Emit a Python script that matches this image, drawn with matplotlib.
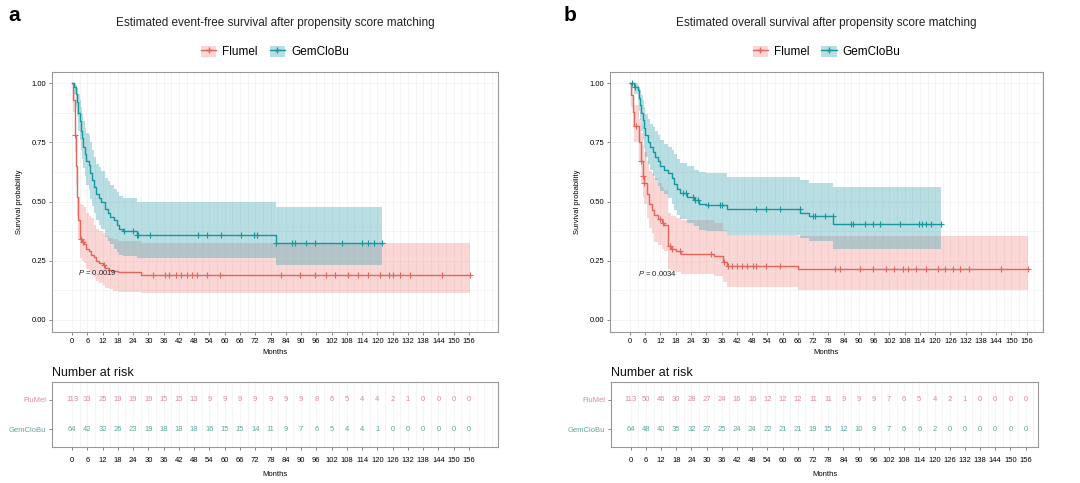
import numpy as np
import matplotlib
matplotlib.use('Agg')
import matplotlib.pyplot as plt
from matplotlib.patches import Patch
from matplotlib.lines import Line2D

plt.rcParams['font.family'] = ['Liberation Sans', 'DejaVu Sans']
plt.rcParams['mathtext.fontset'] = 'custom'
plt.rcParams['mathtext.it'] = 'Liberation Sans:italic'
plt.rcParams['mathtext.rm'] = 'Liberation Sans'

# ---- panel a: event-free survival ----
efs_flu_t = [0, 0.5, 1, 1.5, 2, 2.5, 3, 4, 4.8, 5.5, 6.5, 7.5, 8.5, 9.5, 10.5, 12, 13, 14.5, 16, 18, 27]
efs_flu_s = [1.0, 0.93, 0.78, 0.65, 0.52, 0.42, 0.34, 0.33, 0.32, 0.30, 0.29, 0.275, 0.265, 0.25, 0.24, 0.23, 0.22, 0.21, 0.205, 0.20, 0.19]
efs_flu_hi = [1.0, 0.97, 0.86, 0.74, 0.62, 0.52, 0.49, 0.485, 0.475, 0.45, 0.44, 0.43, 0.40, 0.385, 0.375, 0.365, 0.355, 0.345, 0.34, 0.335, 0.325]
efs_flu_lo = [1.0, 0.88, 0.71, 0.57, 0.44, 0.34, 0.26, 0.25, 0.24, 0.215, 0.20, 0.19, 0.18, 0.165, 0.155, 0.145, 0.135, 0.128, 0.122, 0.118, 0.113]
efs_flu_end = 156.4
efs_flu_cens = [1, 3.5, 4.2, 12.5, 32, 36.5, 38, 41, 43, 45, 47, 49, 53, 58, 82, 89.5, 95.5, 100, 103.5,
                108.5, 112.5, 116.5, 121, 124.5, 126, 129, 133, 145.5, 156.4]

efs_gem_t = [0, 0.8, 1.5, 2, 2.5, 3, 3.5, 4, 4.5, 5, 5.5, 6.5, 7, 8, 8.5, 9.5, 10.5, 11.5, 13, 14, 15, 16.5, 17.5, 18.5, 20, 25.5, 80]
efs_gem_s = [1.0, 0.984, 0.953, 0.92, 0.875, 0.84, 0.80, 0.77, 0.73, 0.70, 0.67, 0.656, 0.62, 0.59, 0.56, 0.53, 0.515, 0.50, 0.468, 0.452, 0.435, 0.42, 0.40, 0.385, 0.375, 0.36, 0.325]
efs_gem_hi = [1.0, 1.0, 0.995, 0.98, 0.955, 0.93, 0.90, 0.87, 0.84, 0.81, 0.79, 0.78, 0.75, 0.72, 0.69, 0.66, 0.645, 0.63, 0.60, 0.585, 0.57, 0.555, 0.54, 0.525, 0.515, 0.50, 0.477]
efs_gem_lo = [1.0, 0.955, 0.90, 0.86, 0.80, 0.76, 0.72, 0.68, 0.64, 0.61, 0.57, 0.55, 0.51, 0.48, 0.45, 0.42, 0.40, 0.385, 0.35, 0.335, 0.32, 0.30, 0.285, 0.275, 0.27, 0.263, 0.23]
efs_gem_end = 121.7
efs_gem_cens = [20.5, 24, 25.5, 26, 30.5, 49.5, 53, 58.5, 66.5, 71.5, 72.5, 80, 86.5, 87.5, 92, 95.5,
                106, 114, 116.5, 118.5, 121.7]

efs_risk_flu = [113, 33, 25, 19, 19, 19, 15, 15, 13, 9, 9, 9, 9, 9, 9, 9, 8, 6, 5, 4, 4, 2, 1, 0, 0, 0, 0]
efs_risk_gem = [64, 42, 32, 26, 23, 19, 18, 18, 18, 16, 15, 15, 14, 11, 9, 7, 6, 5, 4, 4, 1, 0, 0, 0, 0, 0, 0]
efs_p = 'P = 0.0019'

# ---- panel b: overall survival ----
os_flu_t = [0, 0.5, 1, 1.5, 3.5, 4.5, 5, 5.5, 6.5, 7.5, 8.5, 9.5, 11, 12.5, 13.5, 14.8, 16, 18, 20, 33, 36.5, 38, 66]
os_flu_s = [1.0, 0.95, 0.88, 0.82, 0.75, 0.67, 0.61, 0.58, 0.53, 0.49, 0.465, 0.445, 0.425, 0.41, 0.40, 0.31, 0.30, 0.29, 0.28, 0.27, 0.245, 0.226, 0.216]
os_flu_hi = [1.0, 0.99, 0.95, 0.91, 0.85, 0.79, 0.74, 0.71, 0.67, 0.63, 0.62, 0.60, 0.58, 0.56, 0.55, 0.45, 0.44, 0.43, 0.42, 0.41, 0.38, 0.36, 0.355]
os_flu_lo = [1.0, 0.90, 0.82, 0.75, 0.67, 0.58, 0.52, 0.49, 0.43, 0.39, 0.365, 0.33, 0.315, 0.30, 0.29, 0.215, 0.205, 0.20, 0.195, 0.185, 0.16, 0.14, 0.127]
os_flu_end = 156.4
os_flu_cens = [2.5, 4.5, 5, 5.5, 11.8, 13, 15.7, 16.4, 19.6, 32, 36.8, 38.6, 40, 42, 44, 46, 48.4, 49.7,
               53.6, 58.9, 80.5, 82.4, 90.3, 95.5, 100.8, 104, 107.3, 109.3, 112.5, 116.5, 121, 123.7,
               126.9, 129.6, 133.5, 145.9, 156.4]

os_gem_t = [0, 1.5, 3, 3.5, 4, 4.5, 5, 5.5, 6, 7, 8, 9, 10, 11, 12, 13.5, 15, 16.5, 17.5, 18.5, 19.5, 22.5, 25, 27, 30, 38, 67, 70.5, 80]
os_gem_s = [1.0, 0.984, 0.97, 0.94, 0.91, 0.875, 0.845, 0.81, 0.78, 0.75, 0.73, 0.71, 0.69, 0.67, 0.65, 0.635, 0.62, 0.60, 0.575, 0.555, 0.535, 0.52, 0.506, 0.49, 0.484, 0.468, 0.452, 0.44, 0.407]
os_gem_hi = [1.0, 1.0, 0.995, 0.985, 0.97, 0.95, 0.93, 0.90, 0.87, 0.85, 0.83, 0.815, 0.80, 0.78, 0.76, 0.745, 0.73, 0.72, 0.70, 0.68, 0.665, 0.65, 0.635, 0.625, 0.62, 0.605, 0.59, 0.58, 0.56]
os_gem_lo = [1.0, 0.955, 0.925, 0.885, 0.845, 0.80, 0.765, 0.725, 0.69, 0.66, 0.635, 0.61, 0.59, 0.565, 0.545, 0.53, 0.515, 0.49, 0.465, 0.445, 0.425, 0.41, 0.395, 0.38, 0.375, 0.357, 0.345, 0.335, 0.30]
os_gem_end = 122.4
os_gem_cens = [0.7, 2, 21, 22.2, 24.9, 25.5, 26.8, 30.8, 35.3, 36, 49.7, 53.6, 58.9, 66.7, 72, 72.8,
               76.5, 79.8, 87, 87.8, 92.3, 95.5, 98.2, 106, 113.8, 115, 116.5, 118.4, 122.4]

os_risk_flu = [113, 50, 46, 30, 28, 27, 24, 16, 16, 12, 12, 12, 11, 11, 9, 9, 9, 7, 6, 5, 4, 2, 1, 0, 0, 0, 0]
os_risk_gem = [64, 48, 40, 35, 32, 27, 25, 24, 24, 22, 21, 21, 19, 15, 12, 10, 9, 7, 6, 6, 2, 0, 0, 0, 0, 0, 0]
os_p = 'P = 0.0034'

month_ticks = list(range(0, 157, 6))
groups = ['Flumel', 'GemCloBu']

red_line = '#E4655D'
red_fill = '#F0807A'
teal_line = '#15979E'
teal_fill = '#3AA6B4'
red_alpha = 0.32
teal_alpha = 0.36
risk_red = '#D98B99'
risk_teal = '#5EA79E'
frame_col = '#999999'


def style_grid(ax, xmax):
    for x in np.arange(0, xmax, 3):
        ax.axvline(x, color='#f2f2f2', lw=0.6, zorder=0)
    ax.tick_params(length=2, width=0.5, color='#555555', labelsize=5.5, pad=2)
    for sp in ax.spines.values():
        sp.set_color(frame_col)
        sp.set_linewidth(0.8)


def draw_curve(ax, t, s, hi, lo, end, cens, lc, fc, falpha):
    tt = list(t) + [end]
    ss = list(s) + [s[-1]]
    ax.fill_between(tt, list(lo) + [lo[-1]], list(hi) + [hi[-1]], step='post',
                    color=fc, alpha=falpha, lw=0, zorder=1)
    ax.step(tt, ss, where='post', color=lc, lw=1.0, zorder=3)
    idx = np.searchsorted(np.array(t), np.array(cens), side='right') - 1
    ax.plot(cens, np.array(s)[idx], ls='none', marker='+', ms=4, mew=0.8, color=lc, zorder=4)


def km_panel(fig, rect, rect_r, xlim, xlim_r, title, letter, letter_x, curves, risks, ptxt, ppos):
    ax = fig.add_axes(rect)
    style_grid(ax, xlim[1])
    for y in [0, 0.125, 0.25, 0.375, 0.5, 0.625, 0.75, 0.875, 1.0]:
        ax.axhline(y, color='#f3f3f3', lw=0.6, zorder=0)
    for c in curves:
        draw_curve(ax, *c)
    ax.set_xlim(*xlim)
    ax.set_ylim(-0.052, 1.048)
    ax.set_xticks(month_ticks)
    ax.set_yticks([0, 0.25, 0.5, 0.75, 1.0])
    ax.set_yticklabels(['0.00', '0.25', '0.50', '0.75', '1.00'])
    ax.set_xlabel('Months', fontsize=5.5, labelpad=3)
    ax.set_ylabel('Survival probability', fontsize=5.5, labelpad=6)
    ax.text(ppos[0], ppos[1], r'$\it{P}$' + ptxt[1:], fontsize=5.5, color='#222222',
            ha='left', va='center', zorder=5)
    ax.set_title(title, fontsize=8.5, pad=33, color='#222222')

    # legend above the plot
    handles = [(Patch(facecolor=red_fill, alpha=red_alpha), Line2D([], [], color=red_line, lw=1, marker='+', ms=4)),
               (Patch(facecolor=teal_fill, alpha=teal_alpha), Line2D([], [], color=teal_line, lw=1, marker='+', ms=4))]
    ax.legend(handles, groups, loc='lower center', bbox_to_anchor=(0.5, 1.012), ncol=2, frameon=False,
              fontsize=8.5, handlelength=1.3, handleheight=1.1, columnspacing=1.0, handletextpad=0.5)
    fig.text(letter_x, 0.968, letter, fontsize=15, fontweight='bold', ha='left', va='center')

    # number at risk table
    ar = fig.add_axes(rect_r)
    style_grid(ar, xlim_r[1])
    for x, n1, n2 in zip(month_ticks, risks[0], risks[1]):
        ar.text(x, 2, str(n1), color=risk_red, fontsize=5.5, ha='center', va='center')
        ar.text(x, 1, str(n2), color=risk_teal, fontsize=5.5, ha='center', va='center')
    ar.set_xlim(*xlim_r)
    ar.set_ylim(0.4, 2.6)
    ar.set_xticks(month_ticks)
    ar.set_yticks([1, 2])
    ar.set_yticklabels(['GemCloBu', 'FluMel'])
    ar.get_yticklabels()[0].set_color(risk_teal)
    ar.get_yticklabels()[1].set_color(risk_red)
    ar.tick_params(axis='x', pad=5)
    ar.set_xlabel('Months', fontsize=5.5, labelpad=5)
    ar.set_title('Number at risk', loc='left', fontsize=9, pad=4, color='#111111')
    return ax, ar


fig = plt.figure(figsize=(10.8, 4.83), dpi=100)

km_panel(fig, [0.0481, 0.3126, 0.4130, 0.5383], [0.0481, 0.0745, 0.4130, 0.1346],
         (-7.9, 167.4), (-7.9, 167.4),
         'Estimated event-free survival after propensity score matching', 'a', 0.008,
         [(efs_flu_t, efs_flu_s, efs_flu_hi, efs_flu_lo, efs_flu_end, efs_flu_cens, red_line, red_fill, red_alpha),
          (efs_gem_t, efs_gem_s, efs_gem_hi, efs_gem_lo, efs_gem_end, efs_gem_cens, teal_line, teal_fill, teal_alpha)],
         (efs_risk_flu, efs_risk_gem), efs_p, (2.4, 0.20))

km_panel(fig, [0.5648, 0.3126, 0.4009, 0.5383], [0.5655, 0.0745, 0.3959, 0.1346],
         (-7.86, 162.4), (-7.9, 161.0),
         'Estimated overall survival after propensity score matching', 'b', 0.522,
         [(os_flu_t, os_flu_s, os_flu_hi, os_flu_lo, os_flu_end, os_flu_cens, red_line, red_fill, red_alpha),
          (os_gem_t, os_gem_s, os_gem_hi, os_gem_lo, os_gem_end, os_gem_cens, teal_line, teal_fill, teal_alpha)],
         (os_risk_flu, os_risk_gem), os_p, (3.3, 0.195))

fig.savefig('out.png', dpi=100)
